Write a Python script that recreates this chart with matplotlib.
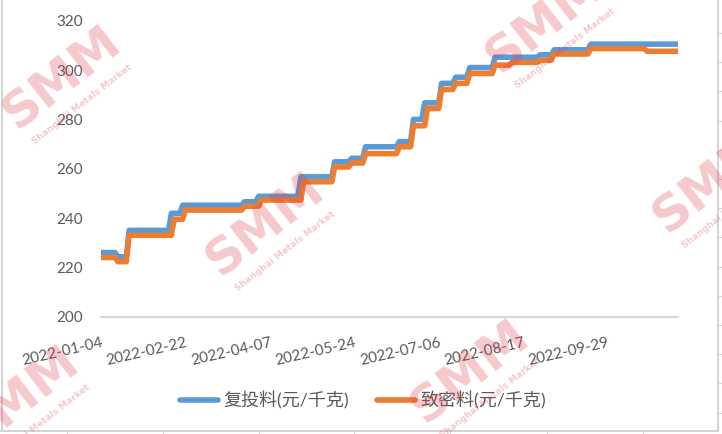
import numpy as np
import matplotlib.pyplot as plt
from matplotlib.lines import Line2D

plt.rcParams['font.family'] = ['Lato', 'Noto Sans CJK SC', 'DejaVu Sans']

# category labels shown on the x axis (one every 30 trading days)
tick_labels = ['2022-01-04', '2022-02-22', '2022-04-07', '2022-05-24',
               '2022-07-06', '2022-08-17', '2022-09-29']
tick_step = 30

# 复投料: price level and number of days it held
recharge_levels = [226, 224.3, 235, 241.9, 245.2, 246.6, 248.8, 256.7, 262.8, 264.2,
                   268.9, 271.0, 280.0, 286.7, 294.6, 297.1, 301.0, 305.2, 306.2,
                   308.2, 310.5]
recharge_days = [6, 4, 15, 4, 22, 5, 15, 12, 6, 5, 12, 5, 4, 6, 5, 5, 9, 16, 5, 13, 32]

# 致密料
dense_levels = [224, 222.3, 233, 239.5, 243.2, 244.8, 247.3, 254.7, 260.7, 262.3,
                266.1, 268.9, 277.4, 284.4, 292.1, 294.6, 298.6, 302.0, 303.1, 304.0,
                306.5, 308.7, 307.6]
dense_days = [6, 4, 16, 4, 21, 6, 15, 11, 6, 5, 12, 5, 5, 5, 5, 5, 9, 6, 10, 5, 13, 20, 12]

series_names = ['复投料(元/千克)', '致密料(元/千克)']

recharge = np.repeat(recharge_levels, recharge_days)
dense = np.repeat(dense_levels, dense_days)
x = np.arange(len(recharge))

W, H = 722, 434
txt = '#595959'

fig = plt.figure(figsize=(W / 100, H / 100), dpi=100)
ax = fig.add_axes([101 / W, 1 - 316.7 / H, 577 / W, 296 / H])

ax.plot(x, recharge, color='#5B9BD5', lw=4, solid_capstyle='round',
        solid_joinstyle='round', label=series_names[0])
ax.plot(x, dense, color='#ED7D31', lw=4, solid_capstyle='round',
        solid_joinstyle='round', label=series_names[1])

ax.set_xlim(0, len(x) - 1)
ax.set_ylim(200, 320)
ax.set_yticks(np.arange(200, 321, 20))
ax.set_xticks(np.arange(0, tick_step * len(tick_labels), tick_step))
ax.set_xticklabels(tick_labels, rotation=13, ha='right', va='top',
                   rotation_mode='anchor')
for s in ['top', 'right', 'left']:
    ax.spines[s].set_visible(False)
ax.spines['bottom'].set_color('#d9d9d9')
ax.spines['bottom'].set_linewidth(1.6)
ax.tick_params(axis='y', length=0, pad=13, labelsize=11, labelcolor=txt)
ax.tick_params(axis='x', length=0, pad=14, labelsize=11, labelcolor=txt)

leg = fig.legend(loc='center', bbox_to_anchor=(363 / W, 1 - 400 / H), ncol=2,
                 frameon=False, fontsize=13, handlelength=2.1,
                 handletextpad=0.3, columnspacing=1.6)
for t in leg.get_texts():
    t.set_color(txt)
for h in leg.get_lines():
    h.set_solid_capstyle('round')

# sheet borders around the chart
def fig_line(x0, y0, x1, y1, **kw):
    fig.add_artist(Line2D([x0 / W, x1 / W], [1 - y0 / H, 1 - y1 / H],
                          transform=fig.transFigure, **kw))

fig_line(2, 0, 2, 431, color='#d4d4d4', lw=1.5)
fig_line(718, 0, 718, 431, color='#d4d4d4', lw=1.5)
fig_line(0, 431, 718, 431, color='#d4d4d4', lw=1.5)
for yy in np.arange(33, 420, 29.2):
    fig_line(718, yy, 722, yy, color='#d4d4d4', lw=0.8)
for xx in [67, 163, 259, 354, 450, 547, 643]:
    fig_line(xx, 431, xx, 434, color='#d4d4d4', lw=0.8)

# SMM watermarks
for cx, cy in [(62, 78), (265, 225), (470, 372), (545, 22), (712, 182), (20, 398)]:
    fig.text(cx / W, 1 - cy / H, 'SMM', rotation=38, ha='center', va='center',
             fontsize=36, fontweight='heavy', color='#e03c46', alpha=0.28,
             family='DejaVu Sans', zorder=10)
    fig.text((cx + 20) / W, 1 - (cy + 26) / H, 'Shanghai Metals Market', rotation=38,
             ha='center', va='center', fontsize=6.5, fontweight='bold',
             color='#e03c46', alpha=0.28, family='DejaVu Sans', zorder=10)

fig.savefig('out.png', dpi=100)
